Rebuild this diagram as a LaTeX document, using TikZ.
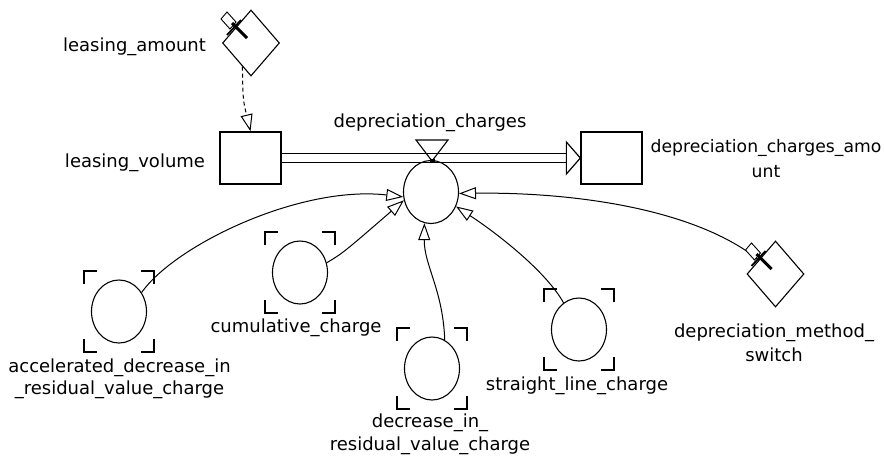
\documentclass[tikz,border=0pt]{standalone}
\usepackage{fontspec}
\setmainfont{DejaVu Sans}
\usetikzlibrary{arrows.meta,shapes.geometric,calc}
\begin{document}
\begin{tikzpicture}[x=1pt,y=-1pt,
  lbl/.style={font=\fontsize{18}{22}\selectfont, inner sep=0pt, anchor=base},
  stockbox/.style={draw, line width=1.3pt, minimum width=61pt, minimum height=52pt, inner sep=0pt},
  auxvar/.style={draw, ellipse, line width=1.1pt, minimum width=55pt, minimum height=63pt, inner sep=0pt},
  auxframe/.style={minimum width=70pt, minimum height=81pt, inner sep=0pt},
  bracket/.style={line width=1.5pt},
  switchvar/.style={draw, diamond, line width=1.1pt, minimum width=57pt, minimum height=66pt, inner sep=0pt},
  link/.style={line width=1pt, -{Triangle[open, length=17pt, width=12pt, line width=1pt]}},
  dashlink/.style={link, dash pattern=on 4pt off 3pt},
  pipe/.style={line width=1.2pt}
]
\fill[white] (0,0) rectangle (884,456);
\useasboundingbox (0,0) rectangle (884,456);

% stocks
\node[stockbox] (lv) at (250.5,158) {};
\node[stockbox] (dca) at (611.5,158) {};

% flow pipe
\draw[pipe] ($(lv.east)+(0,-4.25)$) -- ($(dca.west)+(-14,-4.25)$);
\draw[pipe] ($(lv.east)+(0,4.25)$) -- ($(dca.west)+(-14,4.25)$);
\draw[pipe, fill=white] ($(dca.west)+(-14,-16)$) -- (dca.west) -- ($(dca.west)+(-14,16)$) -- cycle;

% valve
\coordinate (valve) at (432,161);
\draw[line width=1.1pt] ($(valve)+(-16,-21)$) -- ($(valve)+(16,-21)$) -- (valve) -- cycle;
\fill ($(valve)+(-2.5,-2)$) rectangle ($(valve)+(2.5,1.5)$);

% rate variable
\node[auxvar] (dc) at (431,192) {};

% auxiliaries
\node[auxframe] (accB) at (119,311.5) {};
\node[auxvar] (acc) at (119,311.5) {};
\node[auxframe] (cumB) at (300,272.5) {};
\node[auxvar] (cum) at (300,272.5) {};
\node[auxframe] (decB) at (432,368.5) {};
\node[auxvar] (dec) at (432,368.5) {};
\node[auxframe] (slcB) at (579,329.5) {};
\node[auxvar] (slc) at (579,329.5) {};

\foreach \n in {accB,cumB,decB,slcB}{
  \draw[bracket] (\n.north west) ++(0,13) -- ++(0,-13) -- ++(13,0);
  \draw[bracket] (\n.north east) ++(0,13) -- ++(0,-13) -- ++(-13,0);
  \draw[bracket] (\n.south west) ++(0,-13) -- ++(0,13) -- ++(13,0);
  \draw[bracket] (\n.south east) ++(0,-13) -- ++(0,13) -- ++(-13,0);
}

% switch-like variables (diamonds)
\node[switchvar] (la) at (251,43) {};
\node[switchvar] (sw) at (775.5,274) {};

% connectors
\draw[dashlink] (la.250) .. controls (243,100) .. (lv.north);
\draw[link] (acc.40) .. controls (175,245) and (300,185) .. (dc.190);
\draw[link] (cum.20) .. controls (343,253) .. (dc.197);
\draw[link] (dec.66) .. controls (443,290) and (424,265) .. (dc.258);
\draw[link] (slc.120) .. controls (545,270) and (495,232) .. (dc.330);
\draw[link] (sw.140) .. controls (690,205) and (560,192) .. (dc.357);

% tabs with cross marks on diamonds
\foreach \n in {la,sw}{
  \begin{scope}[shift={(\n.center)}]
    \draw[line width=0.9pt, fill=white] (-30,-24) -- (-24,-31) -- (-15,-21) -- (-21,-14) -- cycle;
    \draw[line width=3pt] (-19,-20) -- (-4,-5);
    \draw[line width=1.8pt] (-24,-8) -- (-10,-23);
  \end{scope}
}

% labels
\node[lbl] (laL) at (134.5,51) {leasing\_amount};
\node[lbl] (lvL) at (135,167) {leasing\_volume};
\node[lbl] (dcL) at (430,127) {depreciation\_charges};
\node[lbl, font=\fontsize{17.2}{22}\selectfont] (dcaL1) at (766,152) {depreciation\_charges\_amo};
\node[lbl, font=\fontsize{17.2}{22}\selectfont] (dcaL2) at (766,177) {unt};
\node[lbl] (cumL) at (296,332) {cumulative\_charge};
\node[lbl] (decL1) at (430,427) {decrease\_in\_};
\node[lbl] (decL2) at (430,450) {residual\_value\_charge};
\node[lbl] (accL1) at (119.5,372) {accelerated\_decrease\_in};
\node[lbl] (accL2) at (119.5,394) {\_residual\_value\_charge};
\node[lbl] (slcL) at (577,390) {straight\_line\_charge};
\node[lbl] (swL1) at (774,337) {depreciation\_method\_};
\node[lbl] (swL2) at (774,361) {switch};
\end{tikzpicture}
\end{document}
